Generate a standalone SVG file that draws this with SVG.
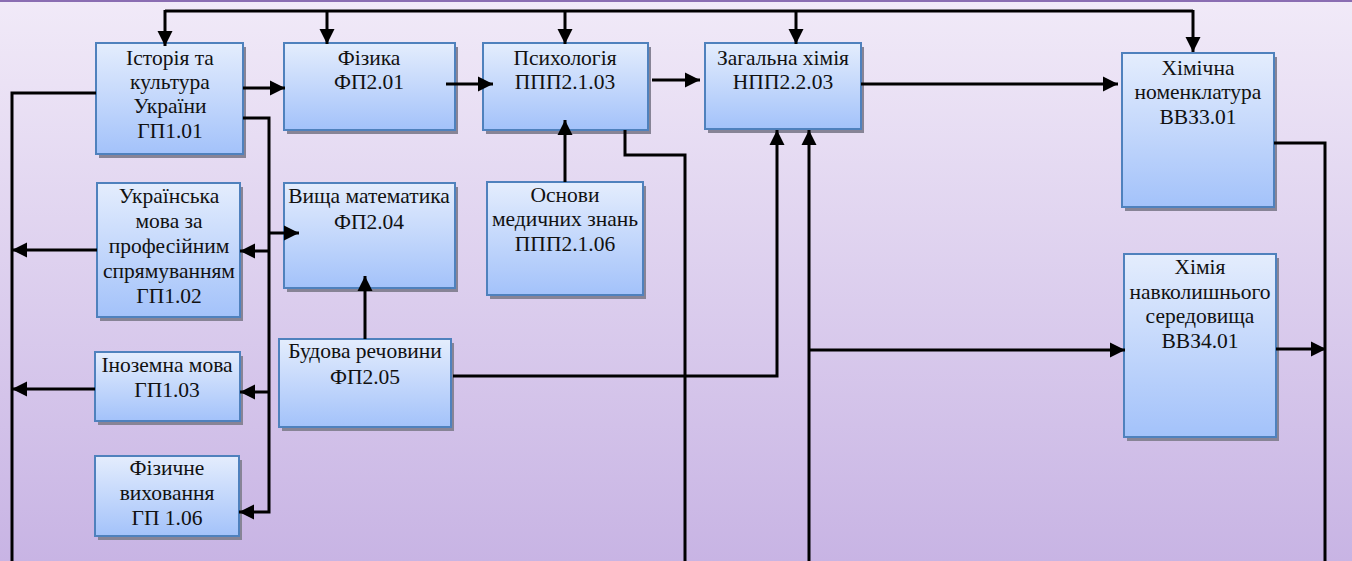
<svg xmlns="http://www.w3.org/2000/svg" width="1352" height="561" viewBox="0 0 1352 561">
  <defs>
    <linearGradient id="bg" x1="0" y1="0" x2="0" y2="1">
      <stop offset="0" stop-color="#f1eaf8"/>
      <stop offset="1" stop-color="#c8b4e4"/>
    </linearGradient>
    <linearGradient id="boxFill" x1="0" y1="0" x2="0" y2="1">
      <stop offset="0" stop-color="#e4edfd"/>
      <stop offset="1" stop-color="#a3c2fa"/>
    </linearGradient>
    <marker id="arrow" markerUnits="userSpaceOnUse" markerWidth="16" markerHeight="16" viewBox="0 0 16 16" refX="15" refY="8" orient="auto">
      <path d="M0,0.5 L15,8 L0,15.5 Z" fill="#000"/>
    </marker>
  </defs>
  <style>
    .box { fill: url(#boxFill); stroke: #4f81bd; stroke-width: 2; }
    .shadow { fill: #878496; }
    .label { font-family: "Liberation Serif", "Times New Roman", serif; font-size: 21.5px; fill: #111; text-anchor: middle; }
    .link { fill: none; stroke: #000; stroke-width: 3; }
    .arr { marker-end: url(#arrow); }
  </style>

  <!-- background -->
  <rect x="0" y="0" width="1352" height="561" fill="url(#bg)"/>
  <rect x="0" y="0" width="1352" height="2" fill="#8a6db2"/>

  <!-- nodes -->
  <g id="n-history">
    <rect class="shadow" x="99" y="47" width="147" height="111"/>
    <rect class="box" x="96" y="43" width="147" height="111"/>
    <text class="label" x="170" y="65">Історія та</text>
    <text class="label" x="170" y="89">культура</text>
    <text class="label" x="170" y="113">України</text>
    <text class="label" x="170" y="138">ГП1.01</text>
  </g>
  <g id="n-physics">
    <rect class="shadow" x="287" y="47" width="171" height="87"/>
    <rect class="box" x="284" y="43" width="171" height="87"/>
    <text class="label" x="369" y="65">Фізика</text>
    <text class="label" x="369" y="89">ФП2.01</text>
  </g>
  <g id="n-psychology">
    <rect class="shadow" x="486" y="47" width="165" height="87"/>
    <rect class="box" x="483" y="43" width="165" height="87"/>
    <text class="label" x="565" y="65">Психологія</text>
    <text class="label" x="565" y="89">ППП2.1.03</text>
  </g>
  <g id="n-general-chem">
    <rect class="shadow" x="708" y="47" width="156" height="86"/>
    <rect class="box" x="705" y="43" width="156" height="86"/>
    <text class="label" x="783" y="65">Загальна хімія</text>
    <text class="label" x="783" y="89">НПП2.2.03</text>
  </g>
  <g id="n-nomenclature">
    <rect class="shadow" x="1125" y="57" width="152" height="154"/>
    <rect class="box" x="1122" y="53" width="152" height="154"/>
    <text class="label" x="1198" y="75">Хімічна</text>
    <text class="label" x="1198" y="99">номенклатура</text>
    <text class="label" x="1198" y="124">ВВЗ3.01</text>
  </g>
  <g id="n-ukrainian">
    <rect class="shadow" x="100" y="187" width="143" height="134"/>
    <rect class="box" x="97" y="183" width="143" height="134"/>
    <text class="label" x="169" y="203">Українська</text>
    <text class="label" x="169" y="228">мова за</text>
    <text class="label" x="169" y="253">професійним</text>
    <text class="label" x="169" y="278">спрямуванням</text>
    <text class="label" x="169" y="303">ГП1.02</text>
  </g>
  <g id="n-math">
    <rect class="shadow" x="287" y="187" width="171" height="105"/>
    <rect class="box" x="284" y="183" width="171" height="105"/>
    <text class="label" x="369" y="203">Вища математика</text>
    <text class="label" x="369" y="229">ФП2.04</text>
  </g>
  <g id="n-medical">
    <rect class="shadow" x="490" y="186" width="156" height="113"/>
    <rect class="box" x="487" y="182" width="156" height="113"/>
    <text class="label" x="565" y="202">Основи</text>
    <text class="label" x="565" y="226">медичних знань</text>
    <text class="label" x="565" y="251">ППП2.1.06</text>
  </g>
  <g id="n-structure">
    <rect class="shadow" x="282" y="343" width="172" height="88"/>
    <rect class="box" x="279" y="339" width="172" height="88"/>
    <text class="label" x="365" y="358">Будова речовини</text>
    <text class="label" x="365" y="384">ФП2.05</text>
  </g>
  <g id="n-foreign">
    <rect class="shadow" x="98" y="356" width="145" height="69"/>
    <rect class="box" x="95" y="352" width="145" height="69"/>
    <text class="label" x="167" y="372">Іноземна мова</text>
    <text class="label" x="167" y="397">ГП1.03</text>
  </g>
  <g id="n-pe">
    <rect class="shadow" x="98" y="460" width="144" height="80"/>
    <rect class="box" x="95" y="456" width="144" height="80"/>
    <text class="label" x="167" y="475">Фізичне</text>
    <text class="label" x="167" y="500">виховання</text>
    <text class="label" x="167" y="525">ГП 1.06</text>
  </g>
  <g id="n-environment">
    <rect class="shadow" x="1127" y="258" width="152" height="183"/>
    <rect class="box" x="1124" y="254" width="152" height="183"/>
    <text class="label" x="1200" y="274">Хімія</text>
    <text class="label" x="1200" y="299">навколишнього</text>
    <text class="label" x="1200" y="323">середовища</text>
    <text class="label" x="1200" y="348">ВВЗ4.01</text>
  </g>

  <!-- connectors, drawn over the boxes -->
  <g id="connectors">
    <!-- top bus -->
    <path class="link" d="M165,11 H1193"/>
    <path class="link arr" d="M165,10 V46"/>
    <path class="link arr" d="M327,11 V44"/>
    <path class="link arr" d="M565,11 V44"/>
    <path class="link arr" d="M796,11 V44"/>
    <path class="link arr" d="M1193,10 V52"/>
    <!-- left bus -->
    <path class="link" d="M96,93 H12 V561"/>
    <path class="link arr" d="M97,250 H12"/>
    <path class="link arr" d="M95,389 H12"/>
    <!-- from history box -->
    <path class="link arr" d="M243,88 H285"/>
    <path class="link arr" d="M243,118 H269 V512 H239"/>
    <path class="link arr" d="M269,392 H240"/>
    <path class="link arr" d="M269,251 H240"/>
    <path class="link arr" d="M269,233 H299"/>
    <!-- middle row -->
    <path class="link arr" d="M446,84 H493"/>
    <path class="link arr" d="M652,80 H700"/>
    <path class="link arr" d="M861,84 H1118"/>
    <path class="link arr" d="M565,182 V120"/>
    <path class="link" d="M625,130 V155 H685 V561"/>
    <path class="link arr" d="M453,376 H777 V130"/>
    <path class="link arr" d="M809,561 V130"/>
    <path class="link arr" d="M809,350 H1125"/>
    <path class="link arr" d="M365,339 V276"/>
    <!-- right bus -->
    <path class="link" d="M1274,143 H1325 V561"/>
    <path class="link arr" d="M1276,349 H1326"/>
  </g>
</svg>
